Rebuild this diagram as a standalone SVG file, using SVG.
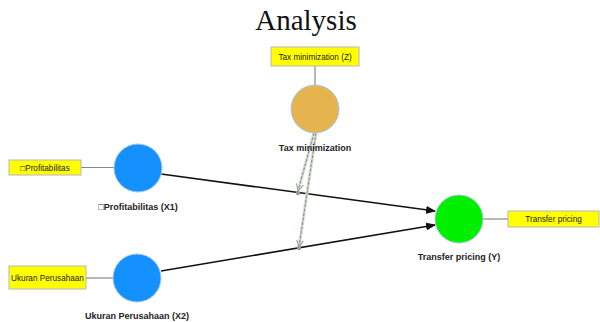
<svg xmlns="http://www.w3.org/2000/svg" width="600" height="322" viewBox="0 0 600 322">
<defs>
<style>
.title{font-family:"Liberation Serif","DejaVu Serif",serif;font-size:29px;fill:#111}
.box{fill:#ffff00;stroke:#b8b8b8;stroke-width:1}
.btxt{font-family:"Liberation Sans",Arial,sans-serif;font-size:8.2px;fill:#222}
.lbl{font-family:"Liberation Sans",Arial,sans-serif;font-size:9px;font-weight:bold;fill:#222}
.node{stroke:#a9c8e8;stroke-width:1}
.link{stroke:#888;stroke-width:1.2;fill:none}
.path{stroke:#111;stroke-width:1.6;fill:none}
.modbg{stroke:#d4dcd4;stroke-width:3;fill:none}
.mod{stroke:#7f907f;stroke-width:1;stroke-dasharray:3 1.5;fill:none}
</style>
<marker id="arr" markerWidth="10" markerHeight="8" refX="9" refY="4" orient="auto" markerUnits="userSpaceOnUse">
<path d="M0,0 L10,4 L0,8 z" fill="#111"/>
</marker>
<marker id="arrm" markerWidth="8" markerHeight="8" refX="7" refY="4" orient="auto" markerUnits="userSpaceOnUse">
<path d="M0,0.5 L7,4 L0,7.5" fill="none" stroke="#8a9a8a" stroke-width="1"/>
</marker>
</defs>
<rect width="600" height="322" fill="#fff"/>
<text class="title" x="306" y="30" text-anchor="middle">Analysis</text>

<g id="connectors">
<line class="link" x1="315" y1="66" x2="315" y2="85"/>
<line class="link" x1="81" y1="167.5" x2="114" y2="167.5"/>
<line class="link" x1="86" y1="278" x2="113" y2="278"/>
<line class="link" x1="483" y1="219" x2="508" y2="219"/>
<line class="path" x1="161" y1="174" x2="435" y2="211" marker-end="url(#arr)"/>
<line class="path" x1="161" y1="271" x2="435" y2="225" marker-end="url(#arr)"/>
<line class="modbg" x1="314" y1="133" x2="298.5" y2="189"/>
<line class="modbg" x1="316" y1="133" x2="299.3" y2="245"/>
<line class="mod" x1="314" y1="133" x2="298" y2="191" marker-end="url(#arrm)"/>
<line class="mod" x1="316" y1="133" x2="299" y2="247" marker-end="url(#arrm)"/>
<circle cx="298" cy="193" r="2.2" fill="#999"/>
<circle cx="299" cy="248" r="2.2" fill="#999"/>
</g>

<g id="node-z">
<rect class="box" x="271" y="47" width="88" height="19"/>
<text class="btxt" x="315" y="59.5" text-anchor="middle">Tax minimization (Z)</text>
<circle class="node" cx="315" cy="109" r="24" fill="#e6b44e"/>
<text class="lbl" x="315" y="151" text-anchor="middle">Tax minimization</text>
</g>

<g id="node-x1">
<rect class="box" x="9" y="160" width="72" height="15"/>
<text class="btxt" x="45" y="170.5" text-anchor="middle">□Profitabilitas</text>
<circle class="node" cx="138" cy="168" r="24" fill="#1590ff"/>
<text class="lbl" x="138" y="210" text-anchor="middle">□Profitabilitas (X1)</text>
</g>

<g id="node-x2">
<rect class="box" x="9" y="266" width="77" height="23"/>
<text class="btxt" x="47.5" y="280.5" text-anchor="middle">Ukuran Perusahaan</text>
<circle class="node" cx="137" cy="278" r="24" fill="#1590ff"/>
<text class="lbl" x="137" y="319" text-anchor="middle">Ukuran Perusahaan (X2)</text>
</g>

<g id="node-y">
<rect class="box" x="508" y="211" width="91" height="16"/>
<text class="btxt" x="553.5" y="222" text-anchor="middle">Transfer pricing</text>
<circle class="node" cx="459" cy="219" r="24" fill="#00f000"/>
<text class="lbl" x="459" y="260" text-anchor="middle">Transfer pricing (Y)</text>
</g>
</svg>
